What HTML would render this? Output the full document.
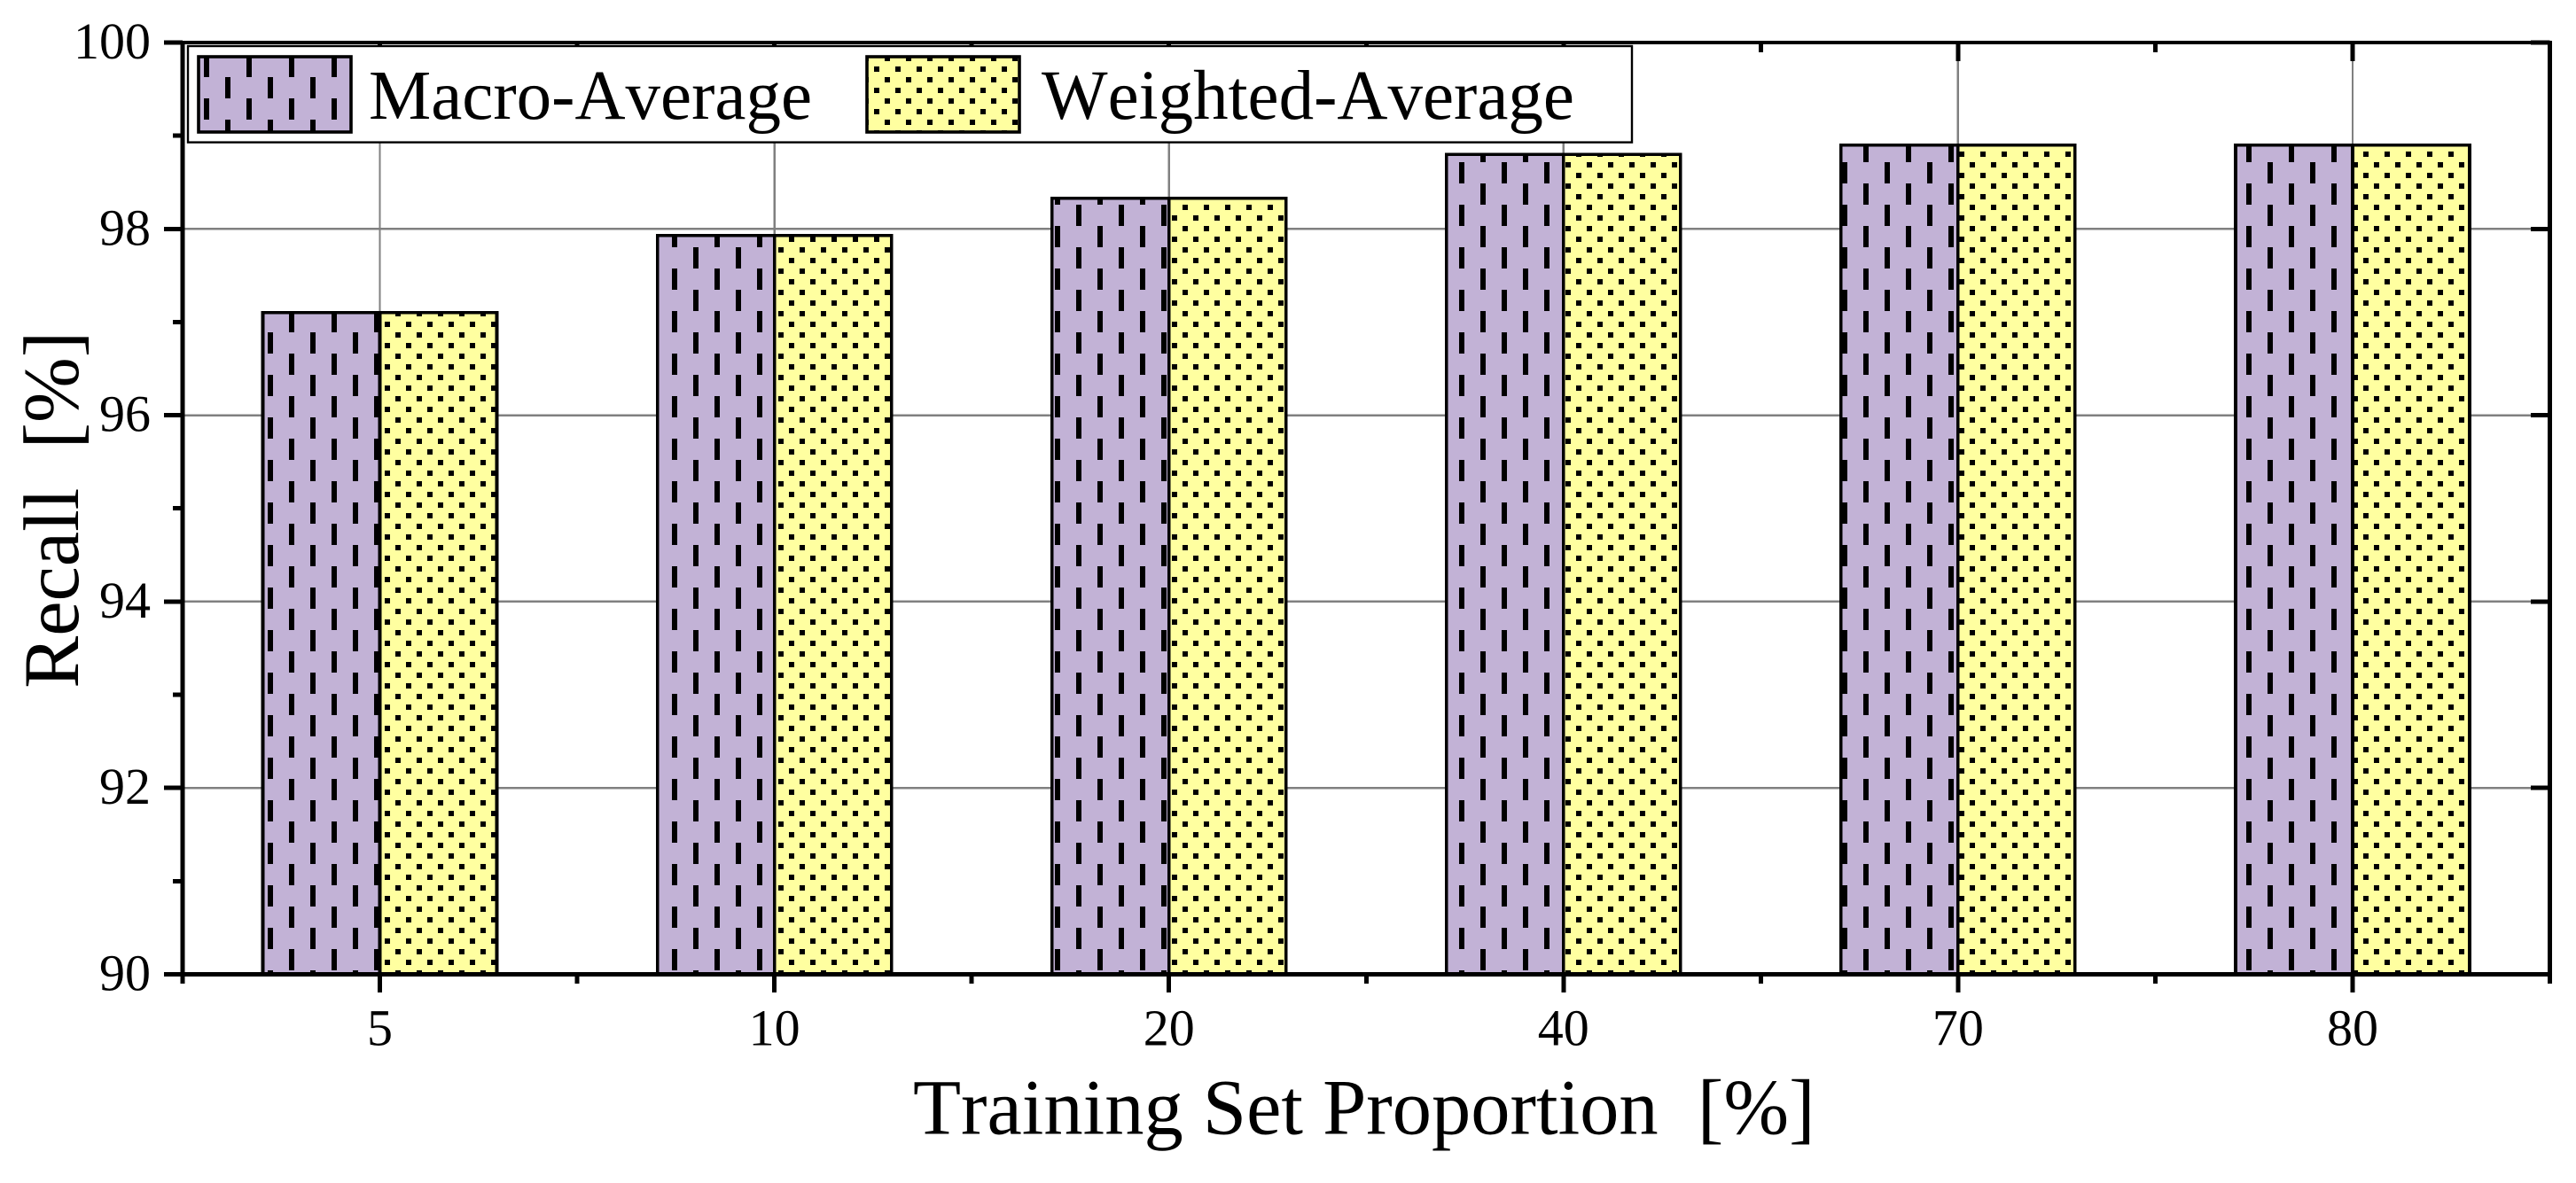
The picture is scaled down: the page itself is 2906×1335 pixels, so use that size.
<!DOCTYPE html>
<html lang="en">
<head>
<meta charset="utf-8">
<title>Recall by Training Set Proportion</title>
<style>
  html, body { margin: 0; padding: 0; background: #ffffff; }
  svg { display: block; }
  text { font-family: "Liberation Serif", "Times New Roman", serif; fill: #000000; white-space: pre; font-kerning: none; }
</style>
</head>
<body>
<svg id="chart" xmlns="http://www.w3.org/2000/svg" width="2906" height="1335" viewBox="0 0 2906 1335">
  <defs>
    <pattern id="dash-pattern" patternUnits="userSpaceOnUse" x="0" y="0" width="48" height="48">
      <rect x="0" y="0" width="48" height="48" fill="#C2B2D6"/>
      <rect x="38" y="15" width="6" height="24" fill="#000000"/>
      <rect x="14" y="39" width="6" height="9" fill="#000000"/>
      <rect x="14" y="0" width="6" height="15" fill="#000000"/>
    </pattern>
    <pattern id="dot-pattern" patternUnits="userSpaceOnUse" x="0" y="0" width="24" height="24">
      <rect x="0" y="0" width="24" height="24" fill="#FFFFA0"/>
      <rect x="2" y="3" width="6" height="6" fill="#000000"/>
      <rect x="14" y="15" width="6" height="6" fill="#000000"/>
    </pattern>
  </defs>
  <rect x="0" y="0" width="2906" height="1335" fill="#ffffff"/>
  <g id="grid"></g>
  <g id="bars"></g>
  <g id="axes"></g>
  <g id="labels"></g>

  <g>
    <rect x="212" y="52" width="1629" height="108.6" fill="#ffffff" stroke="#000000" stroke-width="2.4"/>
    <rect x="224" y="64" width="172" height="85" fill="url(#dash-pattern)" stroke="#000000" stroke-width="3.6"/>
    <text x="416" y="134" font-size="79">Macro-Average</text>
    <rect x="978" y="64" width="172" height="85" fill="url(#dot-pattern)" stroke="#000000" stroke-width="3.6"/>
    <text x="1175" y="134" font-size="79">Weighted-Average</text>
  </g>

  <text x="1030" y="1279.5" font-size="88.5">Training Set Proportion  [%]</text>
  <text transform="translate(88 776.8) rotate(-90)" x="0" y="0" font-size="88.5">Recall  [%]</text>
</svg>

<script>
var categories = ['5', '10', '20', '40', '70', '80'];
var macroAverage = [97.1, 97.93, 98.33, 98.8, 98.9, 98.9];
var weightedAverage = [97.1, 97.93, 98.33, 98.8, 98.9, 98.9];
var yMajorTicks = [90, 92, 94, 96, 98, 100];
var yMinorTicks = [91, 93, 95, 97, 99];
var yGridValues = [92, 94, 96, 98];

var NS = 'http://www.w3.org/2000/svg';
var plotLeft = 206;
var plotRight = 2876.5;
var plotTop = 48;
var plotBottom = 1099.4;
var yMin = 90;
var yMax = 100;
var barHalfWidth = 132;

function xScale(index) {
  return plotLeft + (index + 0.5) * (plotRight - plotLeft) / categories.length;
}
function xBoundary(index) {
  return plotLeft + index * (plotRight - plotLeft) / categories.length;
}
function yScale(value) {
  return plotBottom - (value - yMin) * (plotBottom - plotTop) / (yMax - yMin);
}
function makeLine(x1, y1, x2, y2, color, width) {
  var el = document.createElementNS(NS, 'line');
  el.setAttribute('x1', x1);
  el.setAttribute('y1', y1);
  el.setAttribute('x2', x2);
  el.setAttribute('y2', y2);
  el.setAttribute('stroke', color);
  el.setAttribute('stroke-width', width);
  el.setAttribute('shape-rendering', 'crispEdges');
  return el;
}
function makeText(x, y, anchor, content) {
  var el = document.createElementNS(NS, 'text');
  el.setAttribute('x', x);
  el.setAttribute('y', y);
  el.setAttribute('text-anchor', anchor);
  el.setAttribute('font-size', '58');
  el.textContent = content;
  return el;
}
function makeBar(x, value, width, fill) {
  var el = document.createElementNS(NS, 'rect');
  el.setAttribute('x', x);
  el.setAttribute('y', yScale(value));
  el.setAttribute('width', width);
  el.setAttribute('height', plotBottom - yScale(value));
  el.setAttribute('fill', fill);
  el.setAttribute('stroke', '#000000');
  el.setAttribute('stroke-width', '3.6');
  el.setAttribute('shape-rendering', 'crispEdges');
  return el;
}

var gridGroup = document.getElementById('grid');
var barsGroup = document.getElementById('bars');
var axesGroup = document.getElementById('axes');
var labelsGroup = document.getElementById('labels');

yGridValues.forEach(function (value) {
  var el = makeLine(plotLeft, yScale(value), plotRight, yScale(value), '#808080', 2.4);
  
  
  gridGroup.appendChild(el);
});
categories.forEach(function (category, i) {
  var el = makeLine(xScale(i), plotTop, xScale(i), plotBottom, '#808080', 2.4);
  
  
  gridGroup.appendChild(el);
});

categories.forEach(function (category, i) {
  var macroBar = makeBar(xScale(i) - barHalfWidth, macroAverage[i], barHalfWidth, 'url(#dash-pattern)');
  
  
  barsGroup.appendChild(macroBar);
  var weightedBar = makeBar(xScale(i), weightedAverage[i], barHalfWidth, 'url(#dot-pattern)');
  
  
  barsGroup.appendChild(weightedBar);
});

var topSpine = makeLine(plotLeft, plotTop, plotRight + 2.5, plotTop, '#000000', 4);


axesGroup.appendChild(topSpine);
var rightSpine = makeLine(plotRight, plotTop - 2, plotRight, plotBottom + 2.5, '#000000', 5);


axesGroup.appendChild(rightSpine);
var leftSpine = makeLine(plotLeft, plotTop - 2, plotLeft, plotBottom + 2.5, '#000000', 5);


axesGroup.appendChild(leftSpine);
var bottomSpine = makeLine(plotLeft, plotBottom, plotRight + 2.5, plotBottom, '#000000', 5);


axesGroup.appendChild(bottomSpine);

yMajorTicks.forEach(function (value) {
  var tick = makeLine(185, yScale(value), plotLeft, yScale(value), '#000000', 5);
  
  
  axesGroup.appendChild(tick);
  var mirror = makeLine(2855, yScale(value), plotRight, yScale(value), '#000000', 5);
  
  
  axesGroup.appendChild(mirror);
  var label = makeText(170, yScale(value) + 18, 'end', String(value));
  
  
  labelsGroup.appendChild(label);
});
yMinorTicks.forEach(function (value) {
  var tick = makeLine(195, yScale(value), plotLeft, yScale(value), '#000000', 5);
  
  
  axesGroup.appendChild(tick);
});

categories.forEach(function (category, i) {
  var tick = makeLine(xScale(i), plotBottom, xScale(i), 1120, '#000000', 5);
  
  
  axesGroup.appendChild(tick);
  var mirror = makeLine(xScale(i), plotTop, xScale(i), 69, '#000000', 5);
  
  
  axesGroup.appendChild(mirror);
  var label = makeText(xScale(i), 1179.5, 'middle', category);
  
  
  labelsGroup.appendChild(label);
});
for (var b = 0; b <= categories.length; b++) {
  var minorTick = makeLine(xBoundary(b), plotBottom, xBoundary(b), 1110, '#000000', 5);
  
  
  axesGroup.appendChild(minorTick);
  var minorMirror = makeLine(xBoundary(b), plotTop, xBoundary(b), 59, '#000000', 5);
  
  
  axesGroup.appendChild(minorMirror);
}
</script>
</body>
</html>
